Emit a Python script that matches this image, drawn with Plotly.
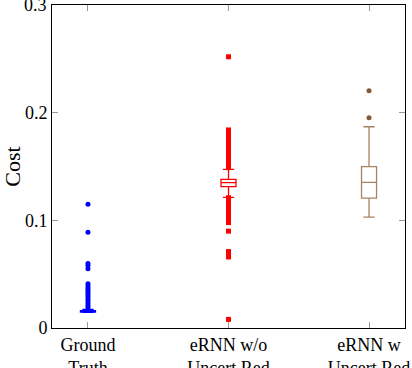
import plotly.graph_objects as go

categories = ["Ground<br>Truth", "eRNN w/o<br>Uncert Red", "eRNN w<br>Uncert Red"]
colors = ["#0000ff", "#ff0000", "#a8825e"]
marker_colors = ["#0000ff", "#ff0000", "#835a34"]
marker_symbols = ["circle", "square", "circle"]

y_ticks = [0, 0.1, 0.2, 0.3]
y_ticktext = ["0", "0.1", "0.2", "0.3"]

# box statistics per category
q1 = [0.0148, 0.1313, 0.1207]
median = [0.0155, 0.1350, 0.1353]
q3 = [0.0162, 0.1381, 0.1499]
lower = [0.0145, 0.1214, 0.1031]
upper = [0.0172, 0.1474, 0.1870]

# outliers
outliers_gt = [0.115, 0.089, 0.060, 0.058, 0.055, 0.041, 0.039, 0.037, 0.035,
               0.033, 0.031, 0.029, 0.027, 0.025, 0.023, 0.021, 0.019, 0.017]
outliers_wo = [0.252, 0.184, 0.182, 0.178, 0.176, 0.172, 0.170, 0.168, 0.166,
               0.164, 0.162, 0.160, 0.158, 0.156, 0.154, 0.152, 0.150, 0.149,
               0.121, 0.119, 0.117, 0.115, 0.113, 0.111, 0.109, 0.107, 0.105,
               0.103, 0.101, 0.099, 0.098, 0.090, 0.071, 0.068, 0.066, 0.008]
outliers_w = [0.2204, 0.1953]
outliers = [outliers_gt, outliers_wo, outliers_w]

fig = go.Figure()
for i in range(3):
    fig.add_trace(go.Box(
        x=[i], q1=[q1[i]], median=[median[i]], q3=[q3[i]],
        lowerfence=[lower[i]], upperfence=[upper[i]],
        width=0.107, whiskerwidth=0.75, boxpoints=False,
        fillcolor="rgba(0,0,0,0)", line=dict(color=colors[i], width=1.3),
        showlegend=False,
    ))
    fig.add_trace(go.Scatter(
        x=[i] * len(outliers[i]), y=outliers[i], mode="markers",
        marker=dict(color=marker_colors[i], symbol=marker_symbols[i], size=5,
                    line=dict(width=0)),
        showlegend=False, cliponaxis=False,
    ))

axis_font = dict(family="Liberation Serif", size=18, color="black")
fig.update_layout(
    width=412, height=368,
    margin=dict(l=52, r=7, t=5, b=40),
    plot_bgcolor="white", paper_bgcolor="white",
    font=axis_font,
)
fig.update_xaxes(
    range=[-0.256, 2.256], tickvals=[0, 1, 2], ticktext=categories,
    showline=True, linecolor="black", linewidth=1, mirror="ticks",
    ticks="inside", ticklen=6, tickcolor="#9a9a9a", showgrid=False,
    zeroline=False, automargin=False,
)
fig.update_yaxes(
    range=[0, 0.3001], tickvals=y_ticks, ticktext=y_ticktext,
    showline=True, linecolor="black", linewidth=1, mirror="ticks",
    ticks="inside", ticklen=6, tickcolor="#9a9a9a", showgrid=False,
    zeroline=False, automargin=False, title=dict(text="Cost", standoff=6),
)
# plotly drops the top tick label because it runs off the page; put it back
fig.add_annotation(
    x=0, xref="paper", y=y_ticks[-1], yref="y", text=y_ticktext[-1],
    showarrow=False, xanchor="right", yanchor="middle", xshift=-3,
)
# drop the default page margin so the figure sits at the window's corner
fig.write_html("out.html", config={"displayModeBar": False},
               post_script="document.body.style.margin='0';")
